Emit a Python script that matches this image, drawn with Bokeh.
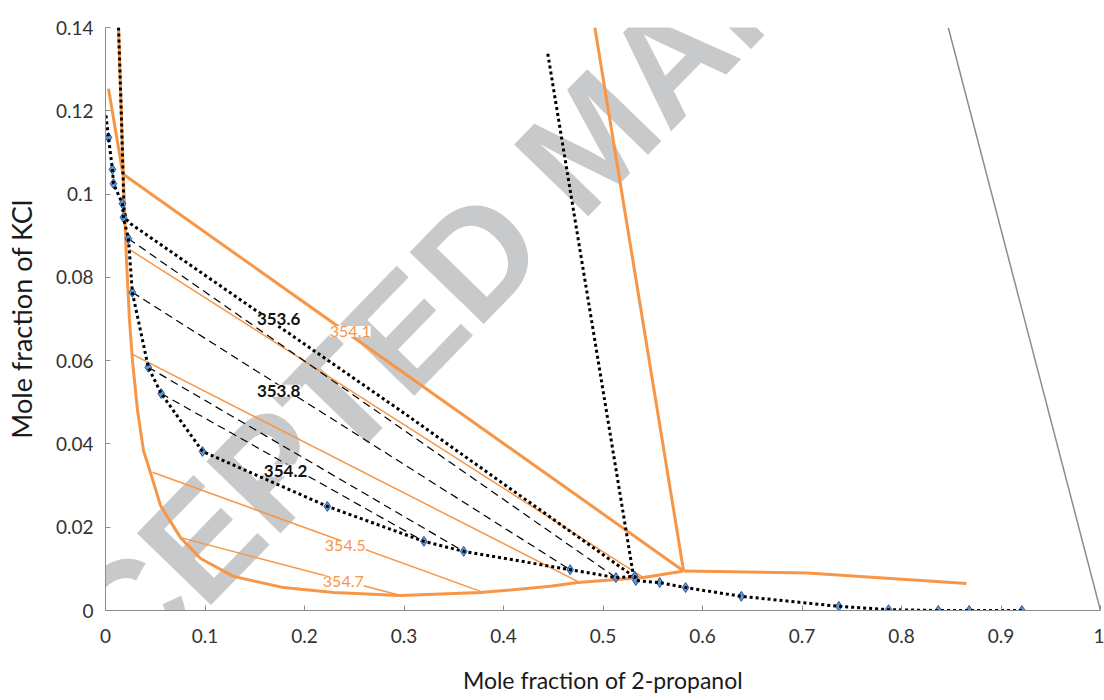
from bokeh.plotting import figure
from bokeh.models import ColumnDataSource, LabelSet, Label, FixedTicker, CustomJSTickFormatter
from bokeh.core.properties import value
from bokeh.embed import file_html
from bokeh.resources import INLINE

# ---- data ----
# experimental solubility points (blue diamonds)
exp_x = [0.003, 0.007, 0.008, 0.017, 0.018, 0.023, 0.027, 0.043, 0.056, 0.0975, 0.223, 0.320,
         0.360, 0.467, 0.513, 0.532, 0.533, 0.557, 0.583, 0.639, 0.737, 0.787, 0.837, 0.868, 0.921]
exp_y = [0.1136, 0.1059, 0.1025, 0.0977, 0.0944, 0.0893, 0.0764, 0.0584, 0.0521, 0.0382, 0.0250, 0.0166,
         0.0142, 0.0098, 0.0079, 0.0082, 0.0072, 0.0067, 0.0055, 0.0034, 0.0010, 0.0002, 0.0, 0.0, 0.0]
# dotted curve through the points (starts on the y axis)
sol_x = [0.0005] + exp_x
sol_y = [0.1189] + exp_y

# dotted boundary of the upper region
bnd_x = [0.0131, 0.0161, 0.0186, 0.0211, 0.0251, 0.2965, 0.5307]
bnd_y = [0.1400, 0.1177, 0.0961, 0.0939, 0.0929, 0.0480, 0.0082]
# near-vertical dotted line
vert_x = [0.4445, 0.5307]
vert_y = [0.1337, 0.0082]

# calculated binodal (thick orange)
bin_x = [0.0131, 0.0161, 0.0191, 0.0211, 0.0241, 0.0271, 0.0322, 0.0382, 0.0452, 0.0553, 0.0754,
         0.0955, 0.1286, 0.1789, 0.2291, 0.2965, 0.3769, 0.4472, 0.4744, 0.5407, 0.5799]
bin_y = [0.1400, 0.1177, 0.0961, 0.0841, 0.0697, 0.0600, 0.0480, 0.0384, 0.0331, 0.0252, 0.0175,
         0.0125, 0.0082, 0.0055, 0.0043, 0.0036, 0.0043, 0.0058, 0.0067, 0.0079, 0.0094]
# other thick orange segments
left_x = [0.003, 0.0175]
left_y = [0.1253, 0.1048]
diag_x = [0.0175, 0.581]
diag_y = [0.1048, 0.0095]
steep_x = [0.4918, 0.581]
steep_y = [0.1400, 0.0095]
flat_x = [0.581, 0.7055, 0.8653]
flat_y = [0.0095, 0.0090, 0.0065]

# thin orange tie lines (calculated)
tie_calc_x0 = [0.0241, 0.0271, 0.0472, 0.0754]
tie_calc_y0 = [0.0867, 0.0615, 0.0332, 0.0175]
tie_calc_x1 = [0.5407, 0.4744, 0.3769, 0.2995]
tie_calc_y1 = [0.0079, 0.0070, 0.0046, 0.0034]

# dashed black tie lines (experimental)
tie_exp_x0 = [0.023, 0.027, 0.043, 0.056]
tie_exp_y0 = [0.0893, 0.0764, 0.0584, 0.0521]
tie_exp_x1 = [0.513, 0.467, 0.360, 0.320]
tie_exp_y1 = [0.0079, 0.0098, 0.0142, 0.0166]

# grey line at the right
grey_x = [0.847, 1.0]
grey_y = [0.14, 0.0]

# temperature labels
blk_lab = ["353.6", "353.8", "354.2"]
blk_x = [0.174, 0.174, 0.181]
blk_y = [0.0699, 0.0528, 0.0336]
org_lab = ["354.1", "354.5", "354.7"]
org_x = [0.246, 0.241, 0.239]
org_y = [0.0670, 0.0156, 0.0070]

x_ticks = [0, 0.1, 0.2, 0.3, 0.4, 0.5, 0.6, 0.7, 0.8, 0.9, 1.0]
y_ticks = [0, 0.02, 0.04, 0.06, 0.08, 0.10, 0.12, 0.14]

ORANGE = "#F79646"
FONT = "Lato"

p = figure(width=1104, height=700, x_range=(0, 1), y_range=(0, 0.14),
           min_border_left=105, min_border_right=4, min_border_top=27, min_border_bottom=90,
           output_backend="svg", toolbar_location=None)
p.outline_line_color = None
p.xgrid.visible = False
p.ygrid.visible = False
p.background_fill_color = "white"
p.border_fill_color = "white"

# watermark
p.add_layout(Label(x=0.4874, y=0.1131, text="ACCEPTED MANUSCRIPT", angle=0.8,
                   text_font="Liberation Sans", text_font_style="bold", text_font_size="150px",
                   text_color="#c8c9cb", text_align="center", text_baseline="middle",
                   level="underlay"))

# orange thick lines
p.line(bin_x, bin_y, line_color=ORANGE, line_width=3)
p.line(left_x, left_y, line_color=ORANGE, line_width=3)
p.line(diag_x, diag_y, line_color=ORANGE, line_width=3)
p.line(steep_x, steep_y, line_color=ORANGE, line_width=3)
p.line(flat_x, flat_y, line_color=ORANGE, line_width=3)
# orange thin tie lines
p.segment(tie_calc_x0, tie_calc_y0, tie_calc_x1, tie_calc_y1, line_color=ORANGE, line_width=1.5)
# grey line
p.line(grey_x, grey_y, line_color="#8c8c8c", line_width=1.5)
# dashed tie lines
p.segment(tie_exp_x0, tie_exp_y0, tie_exp_x1, tie_exp_y1, line_color="black", line_width=1.2,
          line_dash="8 5")
# dotted boundaries
p.line(bnd_x, bnd_y, line_color="black", line_width=3, line_dash="3 3")
p.line(vert_x, vert_y, line_color="black", line_width=3, line_dash="3 3")
# experimental points
p.scatter(exp_x, exp_y, marker="diamond", size=10, fill_color="#5B9BD5", line_color="#2F5597",
          line_width=1)
p.line(sol_x, sol_y, line_color="black", line_width=3, line_dash="3 3")

# labels
src_b = ColumnDataSource(dict(x=blk_x, y=blk_y, t=blk_lab))
src_o = ColumnDataSource(dict(x=org_x, y=org_y, t=org_lab))
p.add_layout(LabelSet(x="x", y="y", text="t", source=src_b, text_font=value(FONT),
                      text_font_style="bold", text_font_size="17px", text_color="#111111",
                      text_align="center", text_baseline="middle",
                      background_fill_color="white"))
p.add_layout(LabelSet(x="x", y="y", text="t", source=src_o, text_font=value(FONT),
                      text_font_size="16px", text_color=ORANGE,
                      text_align="center", text_baseline="middle",
                      background_fill_color="white"))

fmt = CustomJSTickFormatter(code="return Number(tick.toFixed(2)).toString();")
for ax, ticks in ((p.xaxis[0], x_ticks), (p.yaxis[0], y_ticks)):
    ax.ticker = FixedTicker(ticks=ticks)
    ax.formatter = fmt
    ax.minor_tick_line_color = None
    ax.major_tick_in = 5
    ax.major_tick_out = 0
    ax.major_tick_line_color = "#8c8c8c"
    ax.axis_line_color = "#8c8c8c"
    ax.major_label_text_font = FONT
    ax.major_label_text_font_size = "19px"
    ax.major_label_text_color = "#333333"
    ax.axis_label_text_font = FONT
    ax.axis_label_text_font_style = "normal"
    ax.axis_label_text_color = "#1a1a1a"

p.xaxis.axis_label = "Mole fraction of 2-propanol"
p.yaxis.axis_label = "Mole fraction of KCl"
p.xaxis.axis_label_text_font_size = "23px"
p.yaxis.axis_label_text_font_size = "27px"
p.xaxis.major_label_standoff = 18
p.xaxis.axis_label_standoff = 20
p.yaxis.major_label_standoff = 12
p.yaxis.axis_label_standoff = 15

open("out.html", "w").write(file_html(p, INLINE))
